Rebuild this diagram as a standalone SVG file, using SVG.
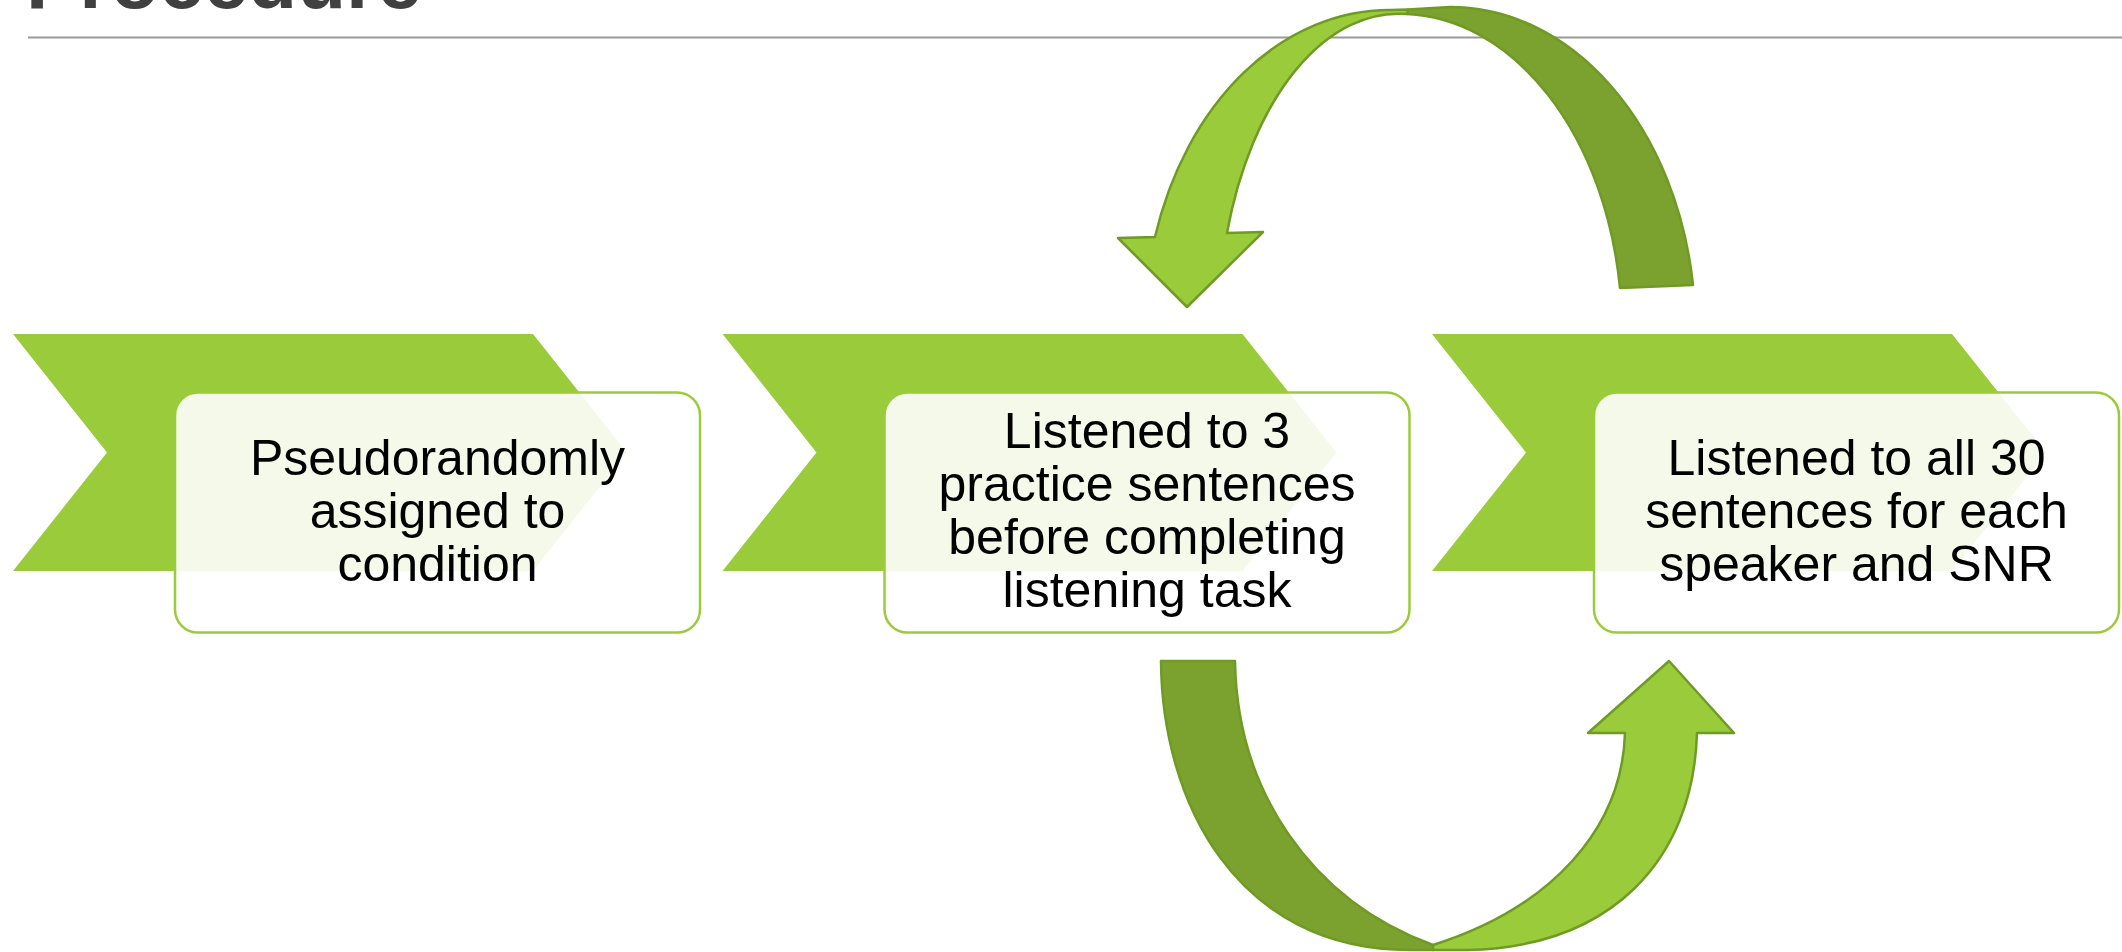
<svg xmlns="http://www.w3.org/2000/svg" width="2122" height="952" viewBox="0 0 2122 952">
  <style>
    .title { font-family: "Liberation Sans", Arial, sans-serif; font-weight: bold; font-size: 80px; fill: #404040; }
    .chev { fill: #9ACB3B; }
    .card { fill: #ffffff; fill-opacity: 0.89; stroke: #9ACB3B; stroke-width: 2.5; }
    .label { font-family: "Liberation Sans", Arial, sans-serif; font-size: 50px; fill: #000000; text-anchor: middle; }
    .arrow-front { fill: #9ACB3B; stroke: #6F9A24; stroke-width: 2.5; stroke-linejoin: round; }
    .arrow-back { fill: #7BA22E; stroke: #6F9A24; stroke-width: 2.5; stroke-linejoin: round; }
  </style>
  <defs>
    <path id="chevron" d="M 13,334 L 533,334 L 627,452.5 L 533,571 L 13,571 L 107,452.5 Z"/>
  </defs>

  <rect width="2122" height="952" fill="#ffffff"/>

  <!-- heading and rule -->
  <g id="heading">
    <text class="title" x="26" y="8">Procedure</text>
    <line x1="28" y1="37.5" x2="2122" y2="37.5" stroke="#9a9a9a" stroke-width="2"/>
  </g>

  <!-- step 1 -->
  <g id="step1">
    <use href="#chevron" class="chev"/>
    <rect class="card" x="175" y="392.5" width="525" height="240" rx="23"/>
    <text class="label" x="437.5" y="475">Pseudorandomly</text>
    <text class="label" x="437.5" y="528">assigned to</text>
    <text class="label" x="437.5" y="581">condition</text>
  </g>

  <!-- step 2 -->
  <g id="step2">
    <use href="#chevron" class="chev" transform="translate(709.5,0)"/>
    <rect class="card" x="884.5" y="392.5" width="525" height="240" rx="23"/>
    <text class="label" x="1147" y="448">Listened to 3</text>
    <text class="label" x="1147" y="501">practice sentences</text>
    <text class="label" x="1147" y="554">before completing</text>
    <text class="label" x="1147" y="607">listening task</text>
  </g>

  <!-- step 3 -->
  <g id="step3">
    <use href="#chevron" class="chev" transform="translate(1419,0)"/>
    <rect class="card" x="1594" y="392.5" width="525" height="240" rx="23"/>
    <text class="label" x="1856.5" y="475">Listened to all 30</text>
    <text class="label" x="1856.5" y="528">sentences for each</text>
    <text class="label" x="1856.5" y="581">speaker and SNR</text>
  </g>

  <!-- curved loop arrows -->
  <g id="connectors">
    <!-- upper loop: back band then front band with head pointing down-left -->
    <path class="arrow-back" d="M 1408,9.5 L 1450,7 A 245 323 0 0 1 1693,285 L 1620,288 A 222 318 0 0 0 1407,14 Z"/>
    <path class="arrow-front" d="M 1155,237 A 245 320 0 0 1 1390,10 L 1408,9.5 L 1407,14 A 180 316 0 0 0 1227,233 L 1263,232 L 1187,307 L 1118,238 Z"/>
    <!-- lower loop: back band then front band with head pointing up -->
    <path class="arrow-back" d="M 1161,661 L 1235,661 C 1237,790 1310,900 1433,945 L 1433,950 L 1410,950 C 1235,950 1162,800 1161,661 Z"/>
    <path class="arrow-front" d="M 1433,945 C 1550,908 1622,830 1625,733 L 1588,733 L 1669,661 L 1734,733 L 1697,733 C 1693,862 1610,947 1467,950 L 1433,950 Z"/>
  </g>
</svg>
